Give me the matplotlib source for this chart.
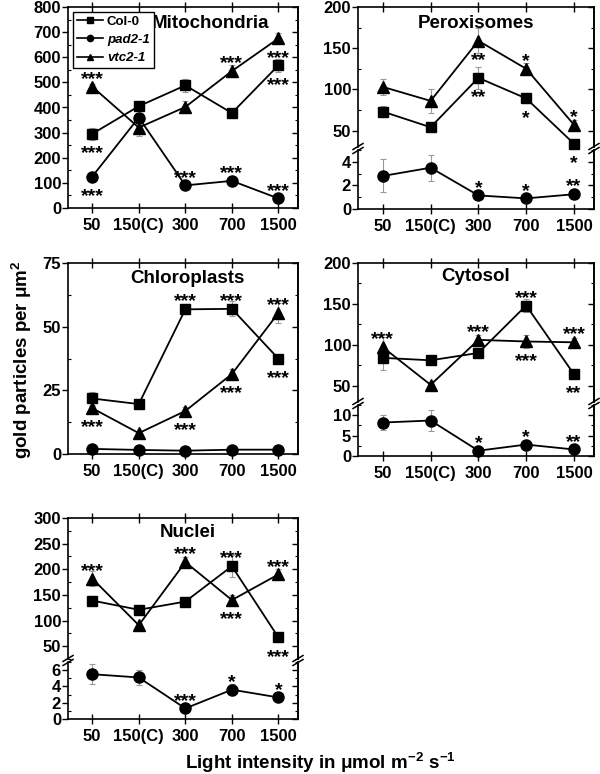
"Immunogold labelling of subcellular compartments vs light intensity"

import numpy             as np
import matplotlib
matplotlib.use('Agg')
import matplotlib.pyplot as plt
from matplotlib.ticker import MultipleLocator
from matplotlib.lines  import Line2D

plt.rcParams['font.family'] = ['Liberation Sans', 'DejaVu Sans']
plt.rcParams['font.weight'] = 'bold'
plt.rcParams['mathtext.fontset'] = 'custom'
plt.rcParams['mathtext.rm'] = 'Liberation Sans:bold'
plt.rcParams['mathtext.bf'] = 'Liberation Sans:bold'
plt.rcParams['mathtext.it'] = 'Liberation Sans:italic:bold'

W, H = 600, 774

LIGHT = ['50', '150(C)', '300', '700', '1500']

# Mitochondria
MITO_COL     = [295, 405, 488, 378, 568]
MITO_COL_ERR = [25, 10, 25, 8, 25]
MITO_PAD     = [125, 360, 90, 108, 38]
MITO_PAD_ERR = [8, 20, 8, 8, 5]
MITO_VTC     = [483, 320, 402, 545, 675]
MITO_VTC_ERR = [10, 35, 25, 25, 20]

# Peroxisomes
PERO_COL     = [73, 54, 114, 89, 34]
PERO_COL_ERR = [7, 3, 13, 6, 2]
PERO_VTC     = [103, 86, 159, 125, 57]
PERO_VTC_ERR = [10, 15, 15, 7, 6]
PERO_PAD     = [2.8, 3.5, 1.15, 0.9, 1.25]
PERO_PAD_ERR = [1.4, 1.1, 0.1, 0.1, 0.1]

# Chloroplasts
CHLO_COL     = [21.8, 19.6, 56.8, 57.0, 37.4]
CHLO_COL_ERR = [2.5, 0.8, 2.0, 3.0, 1.0]
CHLO_PAD     = [2.0, 1.6, 1.3, 1.7, 1.7]
CHLO_PAD_ERR = [0.2, 0.2, 0.2, 0.2, 0.2]
CHLO_VTC     = [18.0, 8.2, 16.9, 31.4, 55.4]
CHLO_VTC_ERR = [1.0, 0.8, 1.5, 2.0, 4.0]

# Cytosol
CYTO_COL     = [84, 81, 90, 148, 64]
CYTO_COL_ERR = [15, 4, 4, 8, 3]
CYTO_VTC     = [97, 51, 106, 104, 103]
CYTO_VTC_ERR = [12, 3, 6, 8, 5]
CYTO_PAD     = [8.2, 8.7, 1.3, 2.8, 1.6]
CYTO_PAD_ERR = [1.8, 2.6, 0.3, 0.3, 0.3]

# Nuclei
NUCL_COL     = [139, 121, 137, 206, 67]
NUCL_COL_ERR = [5, 5, 5, 22, 4]
NUCL_VTC     = [182, 91, 214, 140, 190]
NUCL_VTC_ERR = [15, 5, 10, 10, 10]
NUCL_PAD     = [5.5, 5.1, 1.3, 3.6, 2.65]
NUCL_PAD_ERR = [1.2, 0.9, 0.1, 0.7, 0.2]

# significance marks: (series, index, label, side)
MITO_STARS = [('vtc', 0, '***', 'up'), ('col', 0, '***', 'dn'), ('pad', 0, '***', 'dn'),
              ('pad', 2, '***', 'up'), ('vtc', 3, '***', 'up'), ('pad', 3, '***', 'up'),
              ('vtc', 4, '***', 'dn'), ('col', 4, '***', 'dn'), ('pad', 4, '***', 'up')]
PERO_STARS = [('vtc', 2, '**', 'dn'), ('col', 2, '**', 'dn'), ('vtc', 3, '*', 'up'),
              ('col', 3, '*', 'dn'), ('vtc', 4, '*', 'up'), ('col', 4, '*', 'dn'),
              ('pad', 2, '*', 'up'), ('pad', 3, '*', 'up'), ('pad', 4, '**', 'up')]
CHLO_STARS = [('vtc', 0, '***', 'dn'), ('col', 2, '***', 'up'), ('vtc', 2, '***', 'dn'),
              ('col', 3, '***', 'up'), ('vtc', 3, '***', 'dn'), ('vtc', 4, '***', 'up'),
              ('col', 4, '***', 'dn')]
CYTO_STARS = [('vtc', 0, '***', 'up'), ('vtc', 2, '***', 'up'), ('col', 3, '***', 'up'),
              ('vtc', 3, '***', 'dn'), ('vtc', 4, '***', 'up'), ('col', 4, '**', 'dn'),
              ('pad', 2, '*', 'up'), ('pad', 3, '*', 'up'), ('pad', 4, '**', 'up')]
NUCL_STARS = [('vtc', 0, '***', 'up'), ('vtc', 2, '***', 'up'), ('col', 3, '***', 'up'),
              ('vtc', 3, '***', 'dn'), ('vtc', 4, '***', 'up'), ('col', 4, '***', 'dn'),
              ('pad', 2, '***', 'up'), ('pad', 3, '*', 'up'), ('pad', 4, '*', 'up')]

MARKERS = {'col': ('s', 7), 'pad': ('o', 8), 'vtc': ('^', 8)}
NAMES   = {'col': 'Col-0', 'pad': 'pad2-1', 'vtc': 'vtc2-1'}


def rect(x0, y0, x1, y1):
    """pixel box -> figure fraction rect"""
    return [x0 / W, 1 - y1 / H, (x1 - x0) / W, (y1 - y0) / H]


def style_axis(ax, major, minor, top=True, bottom=True):
    """ticks like the original Origin plot"""
    ax.set_xlim(-0.52, 4.42)
    ax.set_xticks(range(len(LIGHT)))
    ax.set_xticklabels(LIGHT if bottom else [])
    ax.tick_params(axis='x', which='major', direction='inout', length=7, width=1,
                   top=top, bottom=bottom, labelsize=12, pad=4)
    ax.yaxis.set_major_locator(MultipleLocator(major))
    ax.yaxis.set_minor_locator(MultipleLocator(minor))
    ax.tick_params(axis='y', which='major', direction='out', length=4, width=1, labelsize=12, pad=1)
    ax.tick_params(axis='y', which='minor', direction='in', length=2.5, width=0.8)
    for s in ax.spines.values():
        s.set_linewidth(1.2)
    sec = ax.secondary_yaxis('right')
    sec.yaxis.set_major_locator(MultipleLocator(major))
    sec.yaxis.set_minor_locator(MultipleLocator(minor))
    sec.tick_params(which='major', direction='in', length=4, width=1, labelright=False)
    sec.tick_params(which='minor', direction='in', length=2.5, width=0.8)
    sec.spines['right'].set_linewidth(1.2)


def plot_series(ax, vals, errs, key):
    x = np.arange(len(vals))
    marker, ms = MARKERS[key]
    ax.errorbar(x, vals, yerr=errs, fmt='none', ecolor='#9a9a9a',
                elinewidth=0.8, capsize=2, capthick=0.8, zorder=2)
    ax.plot(x, vals, color='black', lw=1.3, marker=marker, ms=ms,
            zorder=3, clip_on=False, label=NAMES[key])


def stars(axes, series, marks):
    for key, i, lab, side in marks:
        dy = 2 if side == 'up' else -17.5
        axes[key].annotate(lab, (i, series[key][i]), xytext=(0, dy),
                           textcoords='offset points', ha='center', va='baseline',
                           fontsize=14, fontweight='bold', zorder=5)


def break_marks(fig, x_px, y_px):
    for x in x_px:
        for off in (-2, 2):
            xs = [(x - 5) / W, (x + 5) / W]
            ys = [1 - (y_px + off + 3) / H, 1 - (y_px + off - 3) / H]
            fig.add_artist(Line2D(xs, ys, color='black', lw=1.1))


def simple_panel(fig, box, title, tpos, ylim, major, minor, series, errs, marks):
    ax = fig.add_axes(rect(*box))
    for key in ('col', 'pad', 'vtc'):
        plot_series(ax, series[key], errs[key], key)
    ax.set_ylim(*ylim)
    style_axis(ax, major, minor)
    ax.text(tpos[0], tpos[1], title, transform=ax.transAxes, ha='center', va='center', fontsize=13.5)
    stars({k: ax for k in series}, series, marks)
    return ax


def broken_panel(fig, box_up, box_lo, title, tpos, ylim_up, ylim_lo, ticks_up, ticks_lo,
                 series, errs, marks):
    axu = fig.add_axes(rect(*box_up))
    axl = fig.add_axes(rect(*box_lo))
    # let marks overflow between the two halves
    axu.patch.set_visible(False)
    axl.patch.set_visible(False)
    for key in ('col', 'vtc'):
        plot_series(axu, series[key], errs[key], key)
    plot_series(axl, series['pad'], errs['pad'], 'pad')
    axu.set_ylim(*ylim_up)
    axl.set_ylim(*ylim_lo)
    style_axis(axu, *ticks_up, top=True, bottom=False)
    style_axis(axl, *ticks_lo, top=False, bottom=True)
    axu.spines['bottom'].set_visible(False)
    axl.spines['top'].set_visible(False)
    axu.text(tpos[0], tpos[1], title, transform=axu.transAxes, ha='center', va='center', fontsize=13.5)
    stars({'col': axu, 'vtc': axu, 'pad': axl}, series, marks)
    break_marks(fig, (box_up[0], box_up[2]), (box_up[3] + box_lo[1]) / 2)
    return axu, axl


def main():
    fig = plt.figure(figsize=(6, 7.74), dpi=100)

    ax = simple_panel(fig, (68, 7, 298, 208), 'Mitochondria', (0.62, 0.92), (0, 800), 100, 50,
                      {'col': MITO_COL, 'pad': MITO_PAD, 'vtc': MITO_VTC},
                      {'col': MITO_COL_ERR, 'pad': MITO_PAD_ERR, 'vtc': MITO_VTC_ERR}, MITO_STARS)
    handles = [Line2D([], [], color='black', lw=1.2, marker=MARKERS[k][0], ms=4.5) for k in ('col', 'pad', 'vtc')]
    leg = ax.legend(handles, [NAMES[k] for k in ('col', 'pad', 'vtc')], loc='upper left',
                    fontsize=9.5, handlelength=2.0, handletextpad=0.3, labelspacing=0.45,
                    borderaxespad=0.35, fancybox=False, framealpha=1, edgecolor='black',
                    borderpad=0.3)
    leg.get_frame().set_linewidth(1.0)
    for t in leg.get_texts()[1:]:
        t.set_style('italic')

    broken_panel(fig, (358, 7, 594, 147), (358, 150, 594, 209), 'Peroxisomes', (0.5, 0.885),
                 (30, 200), (0, 5), (50, 25), (2, 1),
                 {'col': PERO_COL, 'pad': PERO_PAD, 'vtc': PERO_VTC},
                 {'col': PERO_COL_ERR, 'pad': PERO_PAD_ERR, 'vtc': PERO_VTC_ERR}, PERO_STARS)

    simple_panel(fig, (68, 263, 298, 454), 'Chloroplasts', (0.52, 0.92), (0, 75), 25, 12.5,
                 {'col': CHLO_COL, 'pad': CHLO_PAD, 'vtc': CHLO_VTC},
                 {'col': CHLO_COL_ERR, 'pad': CHLO_PAD_ERR, 'vtc': CHLO_VTC_ERR}, CHLO_STARS)

    broken_panel(fig, (358, 263, 594, 402), (358, 405, 594, 456), 'Cytosol', (0.5, 0.9),
                 (30, 200), (0, 12.5), (50, 25), (5, 2.5),
                 {'col': CYTO_COL, 'pad': CYTO_PAD, 'vtc': CYTO_VTC},
                 {'col': CYTO_COL_ERR, 'pad': CYTO_PAD_ERR, 'vtc': CYTO_VTC_ERR}, CYTO_STARS)

    broken_panel(fig, (68, 518, 298, 659), (68, 662, 298, 719), 'Nuclei', (0.52, 0.895),
                 (25, 300), (0, 7), (50, 25), (2, 1),
                 {'col': NUCL_COL, 'pad': NUCL_PAD, 'vtc': NUCL_VTC},
                 {'col': NUCL_COL_ERR, 'pad': NUCL_PAD_ERR, 'vtc': NUCL_VTC_ERR}, NUCL_STARS)

    fig.text(22 / W, 1 - 360 / H, r'gold particles per $\mathregular{\mu m^{2}}$', rotation=90,
             ha='center', va='center', fontsize=13.5)
    fig.text(320 / W, 1 - 763 / H, r'Light intensity in $\mathregular{\mu mol\ m^{-2}\ s^{-1}}$',
             ha='center', va='center', fontsize=13.5)

    fig.savefig('out.png', dpi=100)


if __name__ == "__main__":
    main()
